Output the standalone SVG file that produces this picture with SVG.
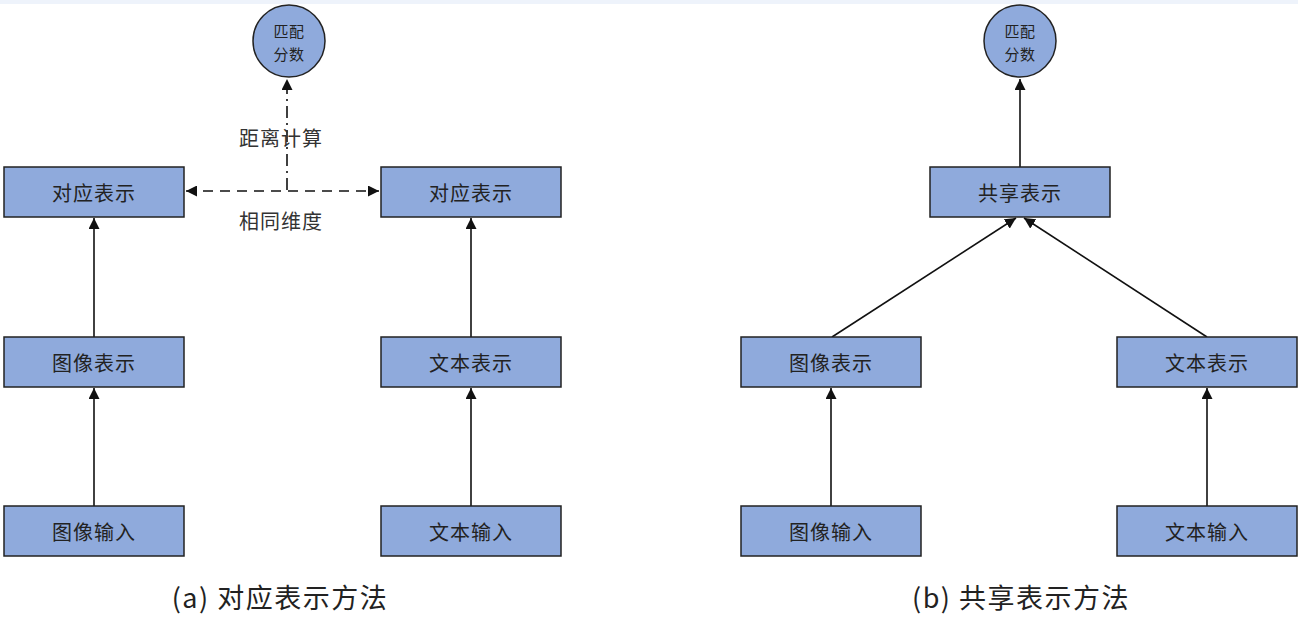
<svg xmlns="http://www.w3.org/2000/svg" width="1298" height="626" viewBox="0 0 1298 626">
<style>
.box{fill:#8faadc;stroke:#222;stroke-width:1.5}
.t{font-family:"Noto Sans CJK SC","Noto Sans",sans-serif;font-size:20px;letter-spacing:1px;fill:#222;text-anchor:middle;dominant-baseline:central}
.ct{font-family:"Noto Sans CJK SC","Noto Sans",sans-serif;font-size:15px;letter-spacing:0.5px;fill:#222;text-anchor:middle;dominant-baseline:central}
.lbl{font-family:"Noto Sans CJK SC","Noto Sans",sans-serif;font-size:20px;letter-spacing:1px;fill:#333;text-anchor:middle;dominant-baseline:central}
.cap{font-family:"Noto Sans CJK SC","Noto Sans",sans-serif;font-size:27px;letter-spacing:1.5px;fill:#222;text-anchor:middle;dominant-baseline:central}
.ln{stroke:#111;stroke-width:1.6;fill:none}
</style>
<defs>
<marker id="ah" viewBox="0 0 10 10" refX="10" refY="5" markerWidth="11" markerHeight="11" markerUnits="userSpaceOnUse" orient="auto-start-reverse"><path d="M0,0L10,5L0,10z" fill="#111"/></marker>
</defs>
<rect x="0" y="0" width="1298" height="626" fill="#fff"/>
<rect x="0" y="0" width="1298" height="4" fill="#eef3fb"/>
<g id="connectors">
<line class="ln" x1="94" y1="506" x2="94" y2="388" marker-end="url(#ah)"/>
<line class="ln" x1="94" y1="337" x2="94" y2="218" marker-end="url(#ah)"/>
<line class="ln" x1="471" y1="506" x2="471" y2="388" marker-end="url(#ah)"/>
<line class="ln" x1="471" y1="337" x2="471" y2="218" marker-end="url(#ah)"/>
<line class="ln" x1="186" y1="191" x2="379" y2="191" stroke-dasharray="10,7" marker-start="url(#ah)" marker-end="url(#ah)"/>
<line class="ln" x1="287" y1="190" x2="287" y2="79" stroke-dasharray="12,5,2,5" marker-end="url(#ah)"/>
<line class="ln" x1="831" y1="506" x2="831" y2="388" marker-end="url(#ah)"/>
<line class="ln" x1="1207" y1="506" x2="1207" y2="388" marker-end="url(#ah)"/>
<line class="ln" x1="832" y1="337" x2="1016" y2="218" marker-end="url(#ah)"/>
<line class="ln" x1="1207" y1="337" x2="1024" y2="218" marker-end="url(#ah)"/>
<line class="ln" x1="1020" y1="167" x2="1020" y2="79" marker-end="url(#ah)"/>
</g>
<g id="lbl-dist"><text class="lbl" x="281" y="137">距离计算</text></g>
<g id="lbl-dim"><text class="lbl" x="281" y="220">相同维度</text></g>
<g id="a-score"><circle cx="289" cy="41" r="36" class="box"/><text class="ct" x="289" y="30">匹配</text><text class="ct" x="289" y="53">分数</text></g>
<g id="a-img-rep2"><rect class="box" x="4" y="167" width="180" height="50"/><text class="t" x="94" y="192">对应表示</text></g>
<g id="a-txt-rep2"><rect class="box" x="381" y="167" width="180" height="50"/><text class="t" x="471" y="192">对应表示</text></g>
<g id="a-img-rep"><rect class="box" x="4" y="337" width="180" height="50"/><text class="t" x="94" y="362">图像表示</text></g>
<g id="a-txt-rep"><rect class="box" x="381" y="337" width="180" height="50"/><text class="t" x="471" y="362">文本表示</text></g>
<g id="a-img-in"><rect class="box" x="4" y="506" width="180" height="50"/><text class="t" x="94" y="531">图像输入</text></g>
<g id="a-txt-in"><rect class="box" x="381" y="506" width="180" height="50"/><text class="t" x="471" y="531">文本输入</text></g>
<g id="b-score"><circle cx="1020" cy="41" r="36" class="box"/><text class="ct" x="1020" y="30">匹配</text><text class="ct" x="1020" y="53">分数</text></g>
<g id="b-shared"><rect class="box" x="930" y="167" width="180" height="50"/><text class="t" x="1020" y="192">共享表示</text></g>
<g id="b-img-rep"><rect class="box" x="741" y="337" width="180" height="50"/><text class="t" x="831" y="362">图像表示</text></g>
<g id="b-txt-rep"><rect class="box" x="1117" y="337" width="180" height="50"/><text class="t" x="1207" y="362">文本表示</text></g>
<g id="b-img-in"><rect class="box" x="741" y="506" width="180" height="50"/><text class="t" x="831" y="531">图像输入</text></g>
<g id="b-txt-in"><rect class="box" x="1117" y="506" width="180" height="50"/><text class="t" x="1207" y="531">文本输入</text></g>
<g id="captions"><text class="cap" x="280" y="596">(a) 对应表示方法</text><text class="cap" x="1021" y="596">(b) 共享表示方法</text></g>
</svg>
